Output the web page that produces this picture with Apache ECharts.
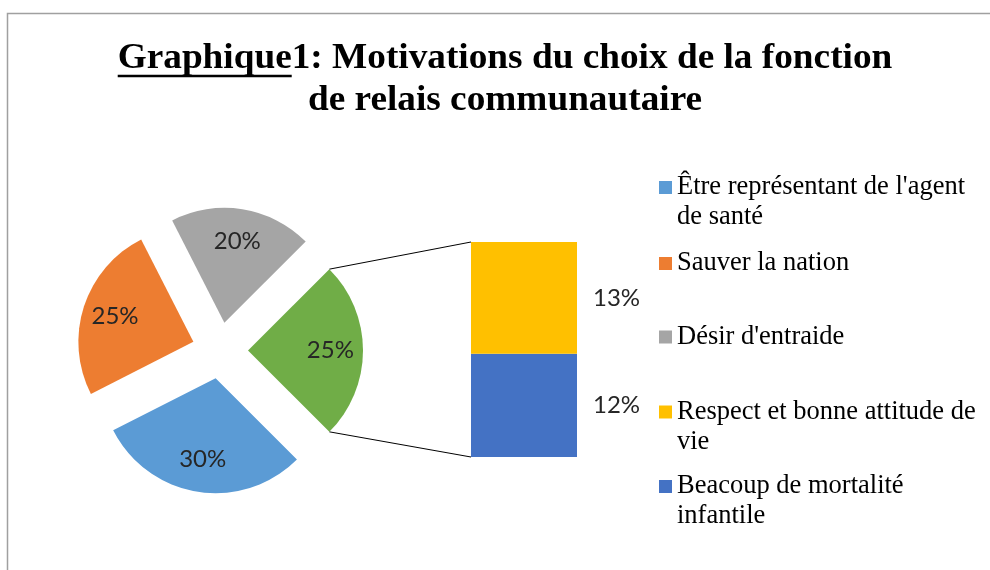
<!DOCTYPE html>
<html><head><meta charset="utf-8">
<script src="https://cdn.jsdelivr.net/npm/echarts@6/dist/echarts.min.js"></script>
<style>html,body{margin:0;padding:0;background:#fff}#c{width:990px;height:570px}</style>
</head><body><div id="c"></div>
<script>
// ---- data ----
const titleUnderlined = 'Graphique';
const titleRest = '1: Motivations du choix de la fonction';
const titleLine2 = 'de relais communautaire';
const pieNames = ["Être représentant de l'agent de santé", 'Sauver la nation', "Désir d'entraide"];
const pieValues = [30, 25, 20];
const otherName = 'Autres';
const barNames = ['Beacoup de mortalité infantile', 'Respect et bonne attitude de vie'];
const barValues = [12, 13];
const legendNames = ["Être représentant de l'agent de santé", 'Sauver la nation', "Désir d'entraide", 'Respect et bonne attitude de vie', 'Beacoup de mortalité infantile'];
const legendLabels = ["Être représentant de l'agent\nde santé", 'Sauver la nation', "Désir d'entraide", 'Respect et bonne attitude de\nvie', 'Beacoup de mortalité\ninfantile'];

// ---- style / layout ----
const pieColors = ['#5B9BD5', '#ED7D31', '#A5A5A5'];
const otherColor = '#70AD47';
const barColors = ['#4472C4', '#FFC000'];
const PC = [220, 350.5], PR = 115, POFF = 28;
const G = {left: 471, top: 242, width: 106, height: 215};
const labelFont = {fontFamily: 'Lato', fontSize: 24, color: '#262626'};
const serif = '"Liberation Serif", "Times New Roman", serif';

const otherValue = barValues.reduce((a, b) => a + b, 0);
const pieTotal = pieValues.reduce((a, b) => a + b, 0) + otherValue;
const pieData = [{name: otherName, value: otherValue, itemStyle: {color: otherColor}, selected: true}]
  .concat(pieNames.map((n, i) => ({name: n, value: pieValues[i], itemStyle: {color: pieColors[i]}, selected: true})));

const legendTops = [142.5, 248.5, 322, 367, 441.5];
const legends = legendNames.map((n, i) => {
  const two = legendLabels[i].indexOf('\n') >= 0;
  return {
    orient: 'vertical', left: 659, top: legendTops[i], padding: 0,
    itemWidth: 13, itemHeight: 13, icon: 'rect', selectedMode: false,
    data: [n], formatter: () => (two ? ' \n' : '') + legendLabels[i],
    textStyle: {fontFamily: serif, fontSize: 26.5, lineHeight: 30, color: '#000'}
  };
});

const chart = echarts.init(document.getElementById('c'), null, {renderer: 'canvas'});
const pieCommon = {
  type: 'pie', center: PC, startAngle: 45, clockwise: true,
  selectedMode: 'multiple', selectedOffset: POFF, animation: false,
  emphasis: {disabled: true}, labelLine: {show: false}
};
chart.setOption({
  animation: false,
  legend: legends,
  grid: G,
  xAxis: {type: 'category', data: [''], show: false},
  yAxis: {type: 'value', min: 0, max: otherValue, show: false},
  series: [
    Object.assign({}, pieCommon, {
      radius: [0, PR], label: {show: false},
      itemStyle: {borderWidth: 0},
      data: pieData
    }),
    Object.assign({}, pieCommon, {
      radius: [PR * 0.38, PR], silent: true,
      itemStyle: {color: 'rgba(0,0,0,0)', borderWidth: 0},
      label: Object.assign({show: true, position: 'inside', formatter: '{c}%'}, labelFont),
      data: pieData.map(d => ({name: d.name, value: d.value, selected: true}))
    }),
    {type: 'bar', name: barNames[0], stack: 's', data: [barValues[0]], barWidth: '100%',
     itemStyle: {color: barColors[0]}, emphasis: {disabled: true},
     label: Object.assign({show: true, position: 'right', distance: 16, formatter: '{c}%'}, labelFont)},
    {type: 'bar', name: barNames[1], stack: 's', data: [barValues[1]], barWidth: '100%',
     itemStyle: {color: barColors[1]}, emphasis: {disabled: true},
     label: Object.assign({show: true, position: 'right', distance: 16, formatter: '{c}%'}, labelFont)}
  ]
});

// ---- decorations: title, underline, frame, connectors ----
const titleFont = 'bold 35px ' + serif;
const SX = 1.065;
const ctx = document.createElement('canvas').getContext('2d');
ctx.font = titleFont;
const wFull = ctx.measureText(titleUnderlined + titleRest).width * SX;
const wU = ctx.measureText(titleUnderlined).width * SX;
const TX = 505;
const half = Math.PI * (otherValue / pieTotal);
const ax = PC[0] + POFF + PR * Math.cos(half), ayT = PC[1] - PR * Math.sin(half), ayB = PC[1] + PR * Math.sin(half);
const pTop = chart.convertToPixel({gridIndex: 0}, [0, otherValue]);
const pBot = chart.convertToPixel({gridIndex: 0}, [0, 0]);
const bx = G.left;
chart.setOption({
  graphic: [
    {type: 'rect', silent: true, shape: {x: 7.5, y: 13.5, width: 1200, height: 800},
     style: {fill: null, stroke: '#a0a0a0', lineWidth: 1.5}},
    {type: 'text', silent: true, x: TX, y: 59, scaleX: SX, style: {text: titleUnderlined + titleRest, x: 0, y: 0, font: titleFont, fill: '#000', textAlign: 'center', textVerticalAlign: 'middle'}},
    {type: 'text', silent: true, x: TX, y: 101, scaleX: SX, style: {text: titleLine2, x: 0, y: 0, font: titleFont, fill: '#000', textAlign: 'center', textVerticalAlign: 'middle'}},
    {type: 'line', silent: true, shape: {x1: TX - wFull / 2, y1: 76, x2: TX - wFull / 2 + wU, y2: 76}, style: {stroke: '#000', lineWidth: 2.5}},
    {type: 'line', silent: true, shape: {x1: ax, y1: ayT, x2: bx, y2: pTop[1]}, style: {stroke: '#000', lineWidth: 1}},
    {type: 'line', silent: true, shape: {x1: ax, y1: ayB, x2: bx, y2: pBot[1]}, style: {stroke: '#000', lineWidth: 1}}
  ]
});
</script></body></html>
